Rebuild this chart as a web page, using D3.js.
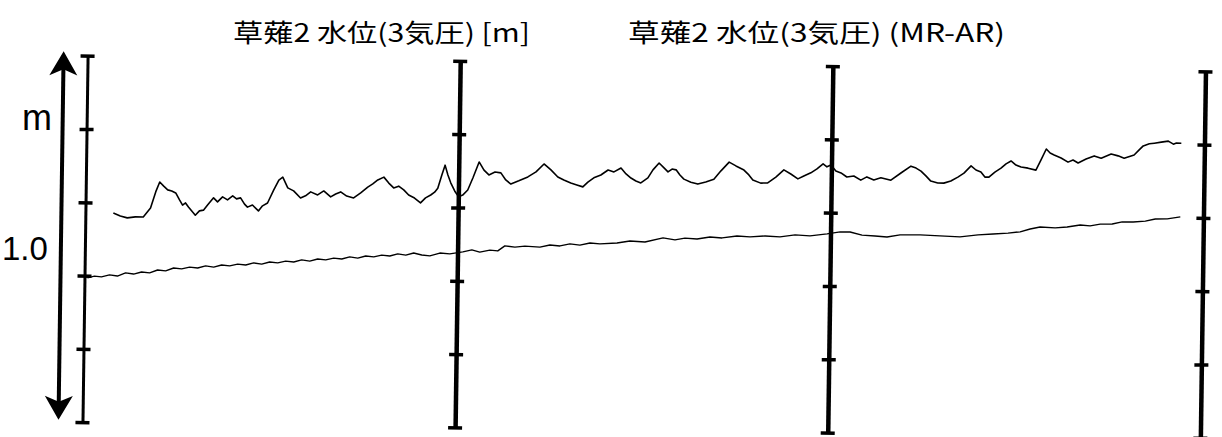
<!DOCTYPE html>
<html>
<head>
<meta charset="utf-8">
<script src="https://cdn.jsdelivr.net/npm/d3@7"></script>
<style>
  html, body { margin: 0; padding: 0; background: #fff; }
  svg { display: block; }
</style>
</head>
<body>
<div id="chart"></div>
<script>
// titles printed above the strip chart
const titles = ["草薙2 水位(3気圧) [m]", "草薙2 水位(3気圧) (MR-AR)"];
// day boundaries (hours) where the vertical scales are drawn
const axisHours = [0, 24, 48, 72];
// tick levels on each scale [m]
const levelTicks = [0, 0.2, 0.4, 0.6, 0.8, 1.0];

// upper trace: [hour, level m]
const upperSeries = [
  [1.80,0.572],[2.25,0.564],[2.70,0.559],[3.22,0.562],[3.73,0.562],[4.19,0.587],[4.51,0.631],[4.76,0.658],
  [5.02,0.647],[5.28,0.637],[5.54,0.634],[5.80,0.629],[6.05,0.610],[6.25,0.596],[6.44,0.602],[6.63,0.591],
  [6.89,0.578],[7.08,0.569],[7.34,0.581],[7.60,0.583],[7.86,0.597],[8.24,0.617],[8.50,0.606],[8.82,0.620],
  [9.14,0.612],[9.47,0.623],[9.72,0.615],[9.98,0.618],[10.24,0.601],[10.43,0.593],[10.75,0.599],[11.14,0.583],
  [11.40,0.597],[11.72,0.605],[12.11,0.641],[12.43,0.668],[12.68,0.676],[13.01,0.647],[13.39,0.639],[13.84,0.620],
  [14.16,0.626],[14.49,0.637],[14.94,0.629],[15.33,0.640],[15.78,0.624],[16.10,0.632],[16.42,0.638],[16.81,0.627],
  [17.26,0.622],[17.71,0.636],[18.16,0.652],[18.48,0.661],[18.80,0.672],[19.19,0.680],[19.51,0.664],[19.83,0.651],
  [20.15,0.656],[20.48,0.646],[20.80,0.632],[21.18,0.624],[21.57,0.611],[21.89,0.625],[22.22,0.633],[22.47,0.641],
  [22.67,0.652],[22.92,0.688],[23.12,0.715],[23.31,0.688],[23.50,0.667],[23.76,0.645],[24.02,0.629],[24.28,0.634],
  [24.60,0.648],[24.92,0.681],[25.31,0.725],[25.63,0.703],[25.95,0.690],[26.34,0.698],[26.72,0.696],[27.04,0.677],
  [27.37,0.666],[27.88,0.675],[28.46,0.686],[28.98,0.700],[29.49,0.722],[29.94,0.706],[30.39,0.687],[30.78,0.679],
  [31.23,0.671],[31.62,0.666],[32.01,0.661],[32.33,0.674],[32.71,0.686],[33.16,0.694],[33.62,0.708],[34.00,0.703],
  [34.45,0.714],[34.78,0.698],[35.10,0.687],[35.42,0.679],[35.74,0.674],[36.19,0.688],[36.51,0.710],[36.90,0.729],
  [37.22,0.716],[37.48,0.705],[37.74,0.713],[38.00,0.711],[38.25,0.697],[38.51,0.686],[38.96,0.678],[39.41,0.673],
  [39.92,0.679],[40.44,0.687],[40.89,0.710],[41.41,0.734],[41.85,0.724],[42.37,0.713],[42.69,0.700],[42.95,0.686],
  [43.46,0.678],[43.91,0.679],[44.43,0.695],[44.94,0.715],[45.39,0.704],[45.85,0.691],[46.23,0.699],[46.68,0.708],
  [47.07,0.719],[47.46,0.733],[47.71,0.725],[47.97,0.730],[48.29,0.714],[48.62,0.709],[49.00,0.698],[49.45,0.701],
  [49.90,0.690],[50.29,0.699],[50.74,0.691],[51.19,0.697],[51.84,0.691],[52.48,0.711],[53.12,0.730],[53.45,0.725],
  [53.77,0.717],[54.09,0.704],[54.41,0.690],[54.86,0.685],[55.25,0.685],[55.70,0.691],[56.15,0.702],[56.54,0.713],
  [56.99,0.733],[57.31,0.722],[57.63,0.717],[57.89,0.703],[58.15,0.703],[58.53,0.717],[58.92,0.728],[59.24,0.740],
  [59.56,0.748],[59.88,0.737],[60.21,0.732],[60.66,0.729],[61.17,0.724],[61.49,0.752],[61.82,0.782],[62.07,0.771],
  [62.33,0.766],[62.78,0.758],[63.23,0.747],[63.55,0.753],[63.88,0.745],[64.39,0.756],[64.91,0.765],[65.36,0.759],
  [66.00,0.771],[66.45,0.766],[66.84,0.760],[67.48,0.769],[67.80,0.783],[68.06,0.794],[68.45,0.800],[68.77,0.802],
  [69.22,0.805],[69.67,0.808],[70.00,0.800],[70.19,0.803],[70.51,0.803]
];

// lower trace: [hour, level m]
const lowerSeries = [
  [0.19,0.394],[0.64,0.399],[1.09,0.397],[1.61,0.403],[2.12,0.400],[2.64,0.409],[3.16,0.406],[3.67,0.412],
  [4.19,0.410],[4.70,0.418],[5.22,0.416],[5.73,0.424],[6.25,0.422],[6.76,0.427],[7.28,0.425],[7.79,0.431],
  [8.31,0.428],[8.82,0.434],[9.34,0.432],[9.85,0.437],[10.37,0.435],[10.88,0.441],[11.40,0.438],[11.91,0.444],
  [12.43,0.442],[12.94,0.447],[13.46,0.445],[13.97,0.451],[14.49,0.448],[15.00,0.454],[15.52,0.452],[16.03,0.457],
  [16.55,0.455],[17.06,0.461],[17.58,0.458],[18.09,0.464],[18.61,0.462],[19.12,0.467],[19.64,0.465],[20.15,0.471],
  [20.67,0.468],[21.18,0.474],[21.70,0.469],[22.22,0.467],[22.86,0.475],[23.50,0.473],[24.34,0.479],[24.92,0.485],
  [25.43,0.479],[26.08,0.485],[26.59,0.483],[27.04,0.497],[27.69,0.494],[28.33,0.497],[29.30,0.495],[29.94,0.501],
  [30.59,0.499],[31.23,0.505],[31.87,0.502],[32.52,0.508],[33.16,0.506],[34.26,0.509],[35.09,0.515],[36.06,0.513],
  [37.22,0.525],[37.99,0.520],[38.63,0.525],[39.41,0.523],[40.24,0.529],[41.02,0.527],[41.98,0.533],[42.82,0.531],
  [43.79,0.534],[44.75,0.532],[45.72,0.538],[46.68,0.536],[47.78,0.542],[48.62,0.548],[49.26,0.548],[50.03,0.540],
  [50.87,0.538],[51.64,0.536],[52.48,0.542],[53.77,0.543],[55.05,0.541],[56.34,0.539],[57.50,0.545],[58.47,0.548],
  [59.43,0.551],[60.21,0.555],[60.85,0.563],[61.49,0.569],[62.46,0.567],[63.23,0.570],[64.07,0.576],[64.71,0.574],
  [65.36,0.579],[66.13,0.580],[66.77,0.586],[67.48,0.586],[68.26,0.589],[68.90,0.595],[69.67,0.596],[70.51,0.602]
];

const width = 1222, height = 437;

const svg = d3.select("#chart").append("svg")
  .attr("width", width)
  .attr("height", height)
  .style("background", "#fff");

const x = d3.scaleLinear().domain([0, 72]).range([85, 1203]);
const y = d3.scaleLinear().domain([0, 1]).range([430, 63.5]);

// the scanned sheet is a little skewed
const plot = svg.append("g")
  .attr("transform", "rotate(0.8,645,245)");

// vertical scales
axisHours.forEach((h, i) => {
  const ax = plot.append("g")
    .attr("transform", "translate(" + x(h) + ",0)")
    .call(d3.axisRight(y).tickValues(levelTicks).tickSize(0).tickFormat(""));
  ax.select(".domain")
    .attr("stroke", "#000")
    .attr("stroke-width", i == 0 ? 3 : 4.5);
  ax.selectAll(".tick line")
    .attr("x1", -7).attr("x2", 7)
    .attr("stroke", "#000")
    .attr("stroke-width", 3.5);
});

// double arrow = 1.0 m
const arrowX = x(0) - 24;
plot.append("line")
  .attr("x1", arrowX).attr("x2", arrowX)
  .attr("y1", y(1) + 10).attr("y2", y(0) - 10)
  .attr("stroke", "#000")
  .attr("stroke-width", 4);
const head = "M0,0 L-14,24 L0,18 L14,24 Z";
plot.append("path")
  .attr("d", head)
  .attr("transform", "translate(" + arrowX + "," + (y(1) - 4) + ")")
  .attr("fill", "#000");
plot.append("path")
  .attr("d", head)
  .attr("transform", "translate(" + arrowX + "," + (y(0) - 2) + ") rotate(180)")
  .attr("fill", "#000");

const line = d3.line()
  .x(d => x(d[0]))
  .y(d => y(d[1]));

plot.append("path")
  .datum(upperSeries)
  .attr("d", line)
  .attr("fill", "none")
  .attr("stroke", "#000")
  .attr("stroke-width", 1.6)
  .attr("stroke-linejoin", "round");

plot.append("path")
  .datum(lowerSeries)
  .attr("d", line)
  .attr("fill", "none")
  .attr("stroke", "#000")
  .attr("stroke-width", 1.4)
  .attr("stroke-linejoin", "round");

// left labels
svg.append("text")
  .attr("x", 37).attr("y", 130)
  .attr("text-anchor", "middle")
  .style("font-family", "'Liberation Sans', Arial, sans-serif")
  .style("font-size", "36px")
  .text("m");
svg.append("text")
  .attr("x", 2).attr("y", 260)
  .attr("text-anchor", "start")
  .style("font-family", "'Liberation Sans', Arial, sans-serif")
  .style("font-size", "33px")
  .text("1.0");

// titles
const titlePos = [[233, 297], [628, 377]];
titles.forEach((t, i) => {
  svg.append("text")
    .attr("x", titlePos[i][0]).attr("y", 42)
    .attr("textLength", titlePos[i][1])
    .attr("lengthAdjust", "spacingAndGlyphs")
    .style("font-family", "'Noto Sans CJK JP', sans-serif")
    .style("font-size", "25px")
    .text(t);
});
</script>
</body>
</html>
